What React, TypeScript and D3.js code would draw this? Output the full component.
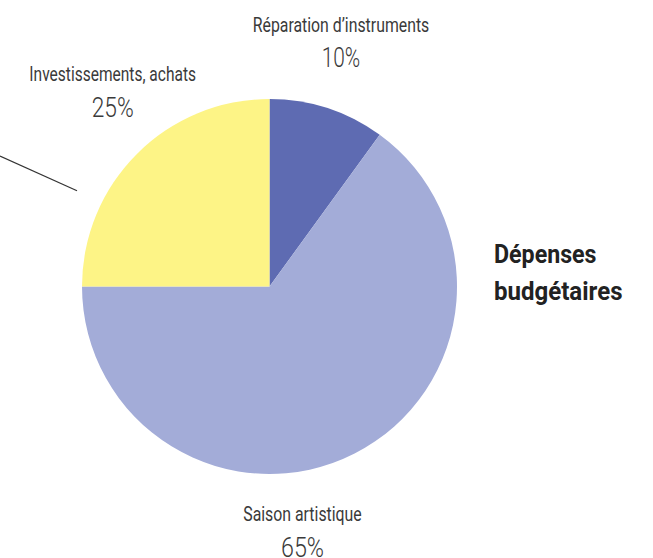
import React from "react";
import * as d3 from "d3";

const categories = ["Réparation d’instruments", "Saison artistique", "Investissements, achats"];
const values = [10, 65, 25];
const valueLabels = ["10%", "65%", "25%"];
const titleLines = ["Dépenses", "budgétaires"];

const colors = ["#5e6bb2", "#a3acd8", "#fdf486"];

const W = 653;
const H = 558;
const cx = 269.5;
const cy = 286.5;
const R = 187.5;

// label layout: [x, nameBaseline, valueBaseline, nameWidth, valueWidth]
const labelLayout: [number, number, number, number, number][] = [
  [341, 32, 67, 176.5, 38.5],
  [302.5, 521, 556.5, 118.5, 43],
  [112.7, 81, 116.7, 166.7, 42],
];

export default function App() {
  const pie = d3.pie<number>().sort(null).startAngle(0).endAngle(2 * Math.PI)(values);
  const arc = d3.arc<d3.PieArcDatum<number>>().innerRadius(0).outerRadius(R);
  return (
    <svg
      width={W}
      height={H}
      style={{ position: "absolute", left: 0, top: 0, background: "#fff" }}
      fontFamily="Roboto, 'Liberation Sans', sans-serif"
    >
      <g transform={`translate(${cx},${cy})`}>
        {pie.map((d, i) => (
          <path key={i} d={arc(d) || ""} fill={colors[i]} />
        ))}
      </g>
      <line x1={0} y1={156} x2={77} y2={190.7} stroke="#333" strokeWidth={1.2} />
      {categories.map((c, i) => {
        const [x, yb1, yb2, w1, w2] = labelLayout[i];
        return (
          <g key={c} fill="#3a3a3a" textAnchor="middle">
            <text x={x} y={yb1} fontSize={19.5} fontWeight={400} textLength={w1} lengthAdjust="spacingAndGlyphs">
              {c}
            </text>
            <text x={x} y={yb2} fontSize={28} fontWeight={300} textLength={w2} lengthAdjust="spacingAndGlyphs">
              {valueLabels[i]}
            </text>
          </g>
        );
      })}
      <text x={494} y={263.3} fontSize={25} fontWeight={700} fill="#222" textLength={102.5} lengthAdjust="spacingAndGlyphs">
        {titleLines[0]}
      </text>
      <text x={494} y={300} fontSize={25} fontWeight={700} fill="#222" textLength={128.5} lengthAdjust="spacingAndGlyphs">
        {titleLines[1]}
      </text>
    </svg>
  );
}
